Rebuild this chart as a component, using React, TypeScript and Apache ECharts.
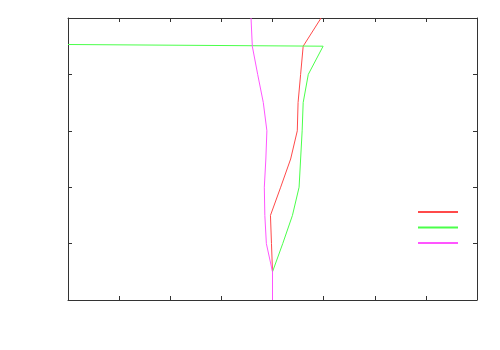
import React, { useEffect, useRef } from "react";
import * as echarts from "echarts";

// Vertical levels (y) shared by the profiles
const levels = [0, 0.5, 1, 1.5, 2, 2.5, 3, 3.5, 4, 4.5, 5];
// Red profile x-values at each level
const redX = [4.0, 4.0, 3.98, 3.96, 4.16, 4.355, 4.485, 4.5, 4.55, 4.6, 4.95];
// Green profile: x and y values (ends with a return to x = 0)
const greenX = [4.0, 4.0, 4.2, 4.39, 4.52, 4.55, 4.58, 4.6, 4.7, 4.99, 0];
const greenY = [0, 0.5, 1, 1.5, 2, 2.5, 3, 3.5, 4, 4.5, 4.53];
// Magenta profile x-values at each level
const magentaX = [4.0, 4.0, 3.88, 3.85, 3.84, 3.87, 3.89, 3.82, 3.71, 3.605, 3.58];

const seriesNames = ["red", "green", "magenta"];
const seriesColors = ["#ff4a4a", "#4aff4a", "#ff55ff"];

function makeAxis(kind: "x" | "y", position: string) {
  return {
    type: "value",
    position,
    min: 0,
    max: kind === "x" ? 8 : 5,
    interval: 1,
    show: true,
    axisLine: { show: true, onZero: false, lineStyle: { color: "#333", width: 1 } },
    axisTick: { show: true, inside: true, length: 4, lineStyle: { color: "#333", width: 1 } },
    axisLabel: { show: false },
    splitLine: { show: false },
  };
}

export default function App() {
  const ref = useRef<HTMLDivElement>(null);
  useEffect(() => {
    if (!ref.current) return;
    const chart = echarts.init(ref.current, null, { renderer: "svg" });
    const datasets = [
      redX.map((x, i) => [x, levels[i]]),
      greenX.map((x, i) => [x, greenY[i]]),
      magentaX.map((x, i) => [x, levels[i]]),
    ];
    chart.setOption({
      animation: false,
      backgroundColor: "#ffffff",
      grid: { left: 68, top: 18, right: 23, bottom: 50 },
      xAxis: [makeAxis("x", "bottom"), makeAxis("x", "top")],
      yAxis: [makeAxis("y", "left"), makeAxis("y", "right")],
      legend: {
        orient: "vertical",
        right: 42,
        top: 211,
        padding: 0,
        icon: "rect",
        itemWidth: 40,
        itemHeight: 2,
        itemGap: 13.5,
        formatter: () => "",
        data: seriesNames,
      },
      series: [
        ...datasets.map((d, i) => ({
          name: seriesNames[i],
          type: "line",
          data: d,
          symbol: "none",
          xAxisIndex: 0,
          yAxisIndex: 0,
          color: seriesColors[i],
          itemStyle: { color: seriesColors[i] },
          lineStyle: { width: 1, color: seriesColors[i] },
        })),
        {
          type: "line",
          data: [],
          xAxisIndex: 1,
          yAxisIndex: 1,
          silent: true,
        },
      ],
    });
    return () => chart.dispose();
  }, []);
  return (
    <div
      ref={ref}
      style={{ position: "fixed", left: 0, top: 0, width: 500, height: 350, background: "#fff" }}
    />
  );
}
